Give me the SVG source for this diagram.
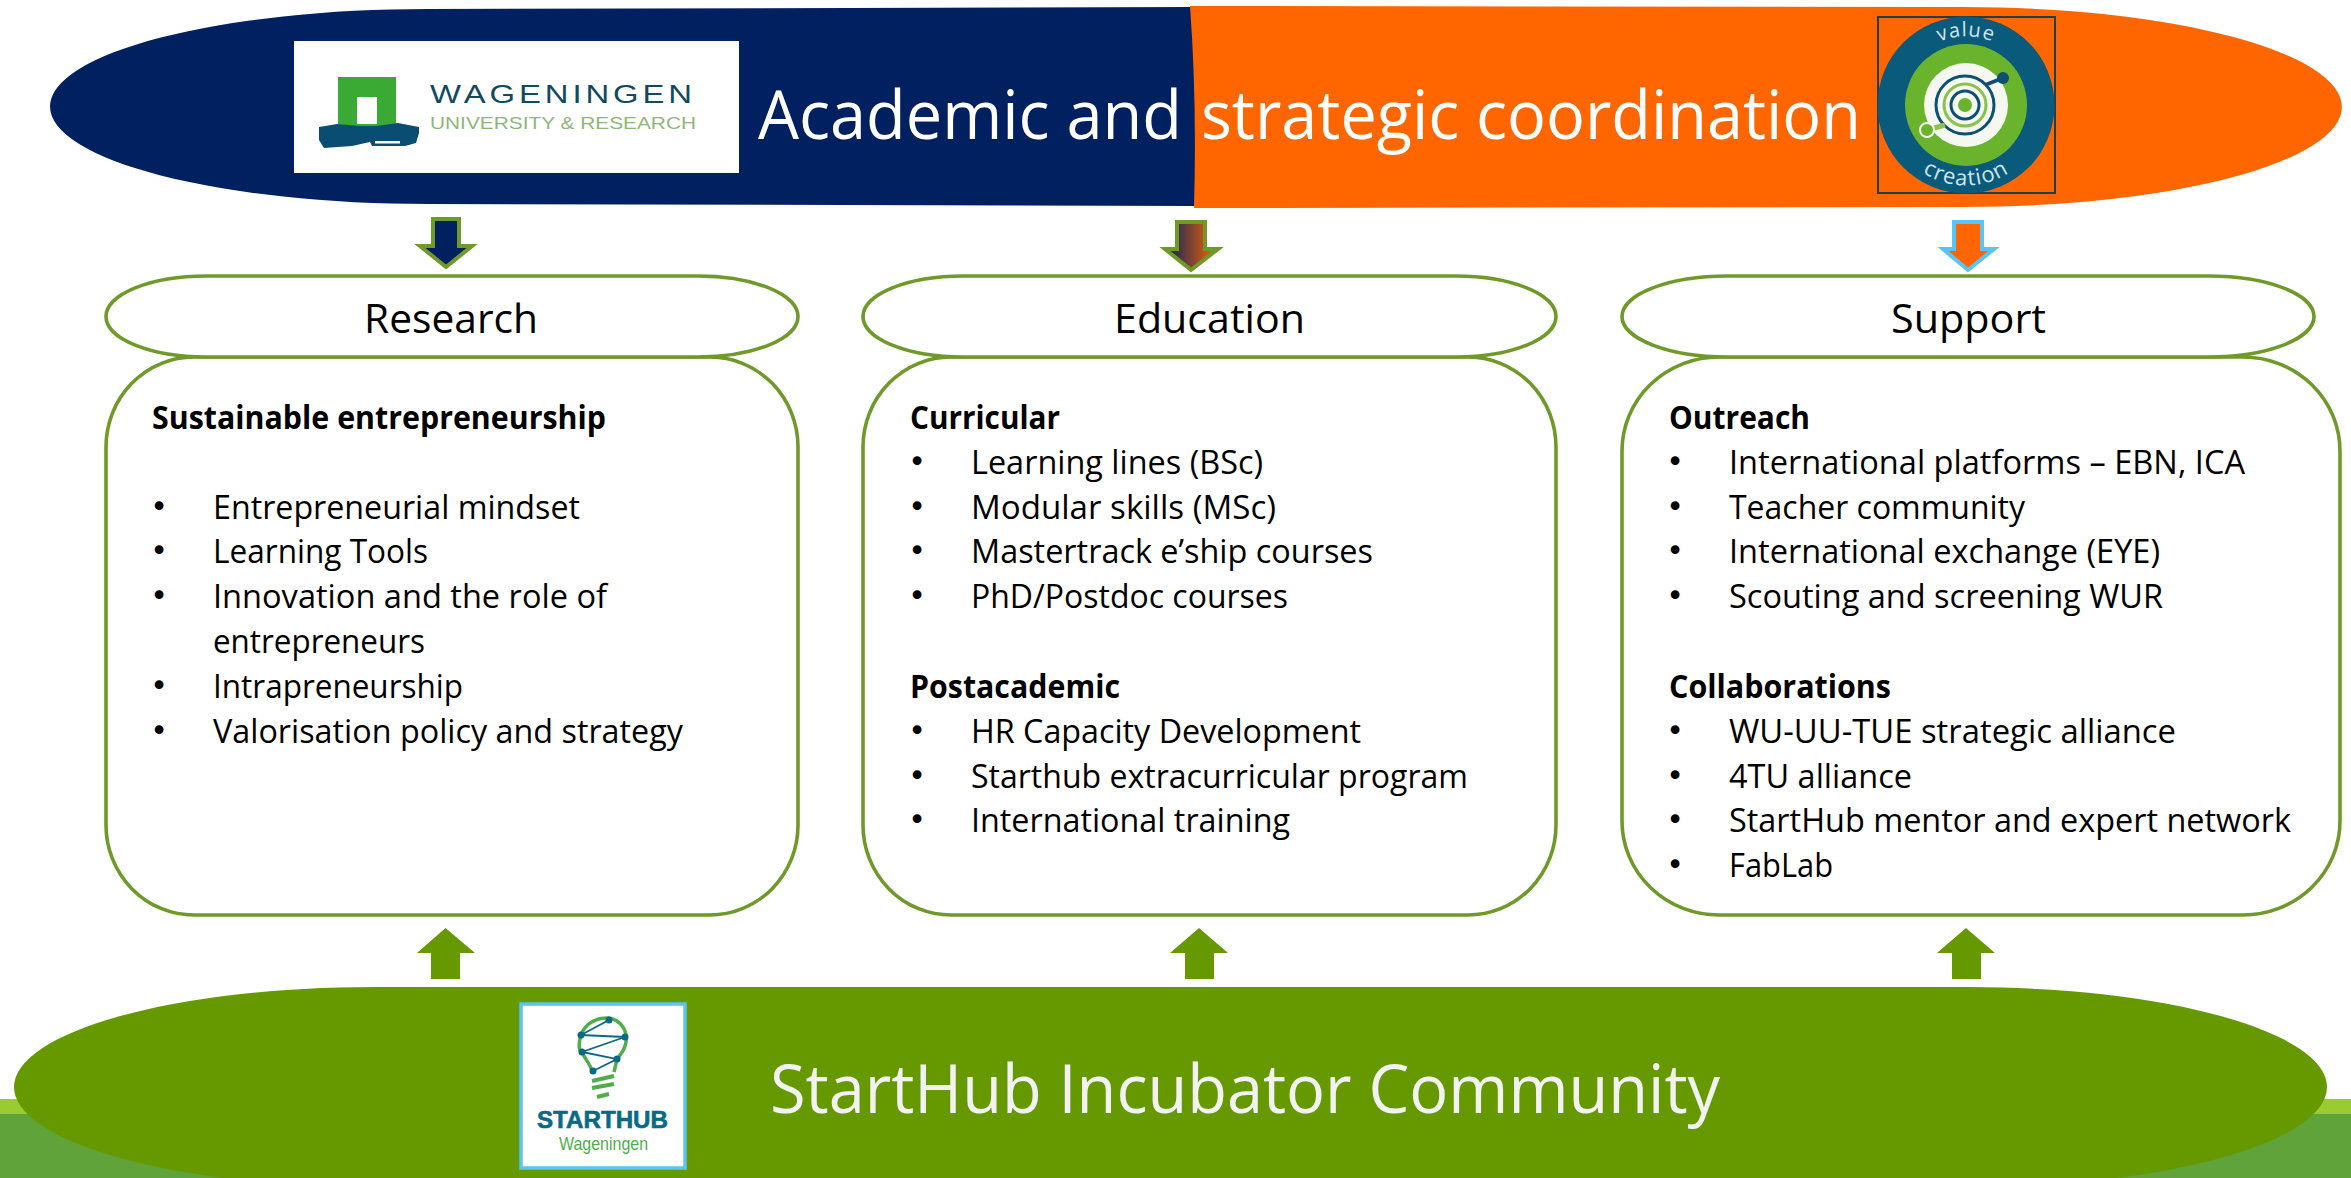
<svg xmlns="http://www.w3.org/2000/svg" width="2351" height="1178" viewBox="0 0 2351 1178">
<style>
text{font-family:"Open Sans","Noto Sans","Liberation Sans",sans-serif}
.box{fill:#fff;stroke:#6f9a2a;stroke-width:3.6}
.hd{font-size:41px;fill:#000}
.b{font-size:32px;fill:#000}
.bb{font-size:32px;fill:#000;font-weight:700}
.k{font-family:"DejaVu Sans",sans-serif;font-size:30px;fill:#000;text-anchor:middle}
.big{font-size:68px;fill:#fff}
.up{fill:#669900}
.dn{stroke:#6f9a2a;stroke-width:4}
.logo{font-family:"Liberation Sans",sans-serif}
</style>
<defs>
<linearGradient id="g" x1="0" y1="0" x2="1" y2="0"><stop offset="0" stop-color="#002060"/><stop offset="1" stop-color="#ff6600"/></linearGradient>
<path id="arcV" d="M1910 65A69 69 0 0 1 2022 65"/>
<path id="arcC" d="M1904 156A80 80 0 0 0 2028 156"/>
</defs>
<rect x="0" y="1099" width="2351" height="79" fill="#99cc33"/>
<rect x="0" y="1114" width="2351" height="64" fill="#5fa33a"/>
<g id="top-left">
<path d="M428 9L1197 7V206L428 204A378 97.500 0 0 1 428 9Z" fill="#002060"/>
<rect x="294" y="41" width="445" height="132" fill="#fff"/>
<rect x="338" y="77" width="58" height="51" fill="#3aaa35"/>
<rect x="357" y="97" width="20" height="27" fill="#fff"/>
<path d="M319 127L337 124L360 126H376L398 123L419 127V133L416 143L405 146H372L370 142L352 146L324 148L319 140Z" fill="#0a4d73"/>
<rect x="375" y="141" width="25" height="2.500" fill="#fff"/>
<text class="logo" x="430" y="103" font-size="25" letter-spacing="3" fill="#114a60" textLength="266" lengthAdjust="spacingAndGlyphs">WAGENINGEN</text>
<text class="logo" x="430" y="129" font-size="17" fill="#8db87a" textLength="266" lengthAdjust="spacingAndGlyphs">UNIVERSITY &amp; RESEARCH</text>
<text class="big" x="758" y="139" textLength="424" lengthAdjust="spacingAndGlyphs">Academic and</text>
</g>
<g id="top-right">
<path d="M1190 6L1962 7A380 100 0 0 1 1962 207L1194 208Q1197 100 1190 6Z" fill="#ff6600"/>
<text class="big" x="1201" y="139" textLength="660" lengthAdjust="spacingAndGlyphs">strategic coordination</text>
<rect x="1878" y="17" width="177" height="176" fill="none" stroke="#1f3f50" stroke-width="2"/>
<circle cx="1966" cy="105" r="88.500" fill="#0a5a7c"/>
<circle cx="1966" cy="105" r="61" fill="#6ab42d"/>
<circle cx="1966" cy="105" r="42" fill="#f4f8f0"/>
<circle cx="1965" cy="105" r="29" fill="none" stroke="#0f4f73" stroke-width="3"/>
<circle cx="1965" cy="105" r="21" fill="none" stroke="#8cc14d" stroke-width="3"/>
<circle cx="1965" cy="105" r="14" fill="none" stroke="#0f4f73" stroke-width="3"/>
<circle cx="1965" cy="105" r="7" fill="#6ab42d"/>
<path d="M1985 85L2003 78" stroke="#0f4f73" stroke-width="4"/><circle cx="2003" cy="78" r="6" fill="#0f4f73"/>
<path d="M1945 125L1927 130" stroke="#8cc14d" stroke-width="5"/><circle cx="1927" cy="130" r="7" fill="#6ab42d" stroke="#f4f8f0" stroke-width="2"/>
<text font-size="20" fill="#cfe6ee" text-anchor="middle" letter-spacing="1"><textPath href="#arcV" startOffset="50%">value</textPath></text>
<text font-size="22" fill="#cfe6ee" text-anchor="middle" letter-spacing="1"><textPath href="#arcC" startOffset="50%">creation</textPath></text>
</g>
<g id="research">
<rect class="box" x="106" y="357" width="692" height="558" rx="88" ry="90"/>
<rect class="box" x="106" y="276" width="692" height="81" rx="100" ry="40.500"/>
<text class="hd" x="364" y="333" textLength="174" lengthAdjust="spacingAndGlyphs">Research</text>
<text class="bb" x="152" y="429" textLength="454" lengthAdjust="spacingAndGlyphs">Sustainable entrepreneurship</text>
<text class="k" x="159" y="517">•</text><text class="b" x="213" y="519" textLength="367" lengthAdjust="spacingAndGlyphs">Entrepreneurial mindset</text>
<text class="k" x="159" y="561">•</text><text class="b" x="213" y="563" textLength="215" lengthAdjust="spacingAndGlyphs">Learning Tools</text>
<text class="k" x="159" y="606">•</text><text class="b" x="213" y="608" textLength="394" lengthAdjust="spacingAndGlyphs">Innovation and the role of</text>
<text class="b" x="213" y="653" textLength="212" lengthAdjust="spacingAndGlyphs">entrepreneurs</text>
<text class="k" x="159" y="696">•</text><text class="b" x="213" y="698" textLength="250" lengthAdjust="spacingAndGlyphs">Intrapreneurship</text>
<text class="k" x="159" y="741">•</text><text class="b" x="213" y="743" textLength="470" lengthAdjust="spacingAndGlyphs">Valorisation policy and strategy</text>
</g>
<g id="education">
<rect class="box" x="863" y="357" width="693" height="558" rx="88" ry="90"/>
<rect class="box" x="863" y="276" width="693" height="81" rx="100" ry="40.500"/>
<text class="hd" x="1114" y="333" textLength="191" lengthAdjust="spacingAndGlyphs">Education</text>
<text class="bb" x="910" y="429" textLength="150" lengthAdjust="spacingAndGlyphs">Curricular</text>
<text class="k" x="917" y="472">•</text><text class="b" x="971" y="474" textLength="292" lengthAdjust="spacingAndGlyphs">Learning lines (BSc)</text>
<text class="k" x="917" y="517">•</text><text class="b" x="971" y="519" textLength="305" lengthAdjust="spacingAndGlyphs">Modular skills (MSc)</text>
<text class="k" x="917" y="561">•</text><text class="b" x="971" y="563" textLength="402" lengthAdjust="spacingAndGlyphs">Mastertrack e’ship courses</text>
<text class="k" x="917" y="606">•</text><text class="b" x="971" y="608" textLength="317" lengthAdjust="spacingAndGlyphs">PhD/Postdoc courses</text>
<text class="bb" x="910" y="698" textLength="210" lengthAdjust="spacingAndGlyphs">Postacademic</text>
<text class="k" x="917" y="741">•</text><text class="b" x="971" y="743" textLength="390" lengthAdjust="spacingAndGlyphs">HR Capacity Development</text>
<text class="k" x="917" y="786">•</text><text class="b" x="971" y="788" textLength="497" lengthAdjust="spacingAndGlyphs">Starthub extracurricular program</text>
<text class="k" x="917" y="830">•</text><text class="b" x="971" y="832" textLength="319" lengthAdjust="spacingAndGlyphs">International training</text>
</g>
<g id="support">
<rect class="box" x="1622" y="357" width="718" height="558" rx="97" ry="94"/>
<rect class="box" x="1622" y="276" width="692" height="81" rx="105" ry="40.500"/>
<text class="hd" x="1891" y="333" textLength="155" lengthAdjust="spacingAndGlyphs">Support</text>
<text class="bb" x="1669" y="429" textLength="141" lengthAdjust="spacingAndGlyphs">Outreach</text>
<text class="k" x="1675" y="472">•</text><text class="b" x="1729" y="474" textLength="516" lengthAdjust="spacingAndGlyphs">International platforms – EBN, ICA</text>
<text class="k" x="1675" y="517">•</text><text class="b" x="1729" y="519" textLength="296" lengthAdjust="spacingAndGlyphs">Teacher community</text>
<text class="k" x="1675" y="561">•</text><text class="b" x="1729" y="563" textLength="431" lengthAdjust="spacingAndGlyphs">International exchange (EYE)</text>
<text class="k" x="1675" y="606">•</text><text class="b" x="1729" y="608" textLength="434" lengthAdjust="spacingAndGlyphs">Scouting and screening WUR</text>
<text class="bb" x="1669" y="698" textLength="222" lengthAdjust="spacingAndGlyphs">Collaborations</text>
<text class="k" x="1675" y="741">•</text><text class="b" x="1729" y="743" textLength="447" lengthAdjust="spacingAndGlyphs">WU-UU-TUE strategic alliance</text>
<text class="k" x="1675" y="786">•</text><text class="b" x="1729" y="788" textLength="183" lengthAdjust="spacingAndGlyphs">4TU alliance</text>
<text class="k" x="1675" y="830">•</text><text class="b" x="1729" y="832" textLength="562" lengthAdjust="spacingAndGlyphs">StartHub mentor and expert network</text>
<text class="k" x="1675" y="875">•</text><text class="b" x="1729" y="877" textLength="104" lengthAdjust="spacingAndGlyphs">FabLab</text>
</g>
<g id="bottom">
<rect x="14" y="987" width="2313" height="200" rx="360" ry="100" fill="#669900"/>
<rect x="521" y="1004" width="164" height="164" fill="#fff" stroke="#5bc4f5" stroke-width="3.500"/>
<path d="M581 1035C585 1024 596 1017 609 1018C620 1020 628 1030 626 1042C625 1050 621 1054 617 1059L614 1072M581 1035C578 1044 579 1052 582 1052C584 1058 590 1063 592 1071" fill="none" stroke="#4fae4a" stroke-width="3.500"/>
<path d="M581 1035L609 1020M581 1035L625 1037L582 1052L617 1059L593 1071" fill="none" stroke="#0a6a85" stroke-width="1.800"/>
<g fill="#0a6a85"><circle cx="581" cy="1035" r="3.500"/><circle cx="609" cy="1020" r="3.500"/><circle cx="625" cy="1037" r="3.500"/><circle cx="582" cy="1052" r="3.500"/><circle cx="617" cy="1059" r="3.500"/><circle cx="593" cy="1071" r="3.500"/></g>
<path d="M592 1081L614 1076M592 1088L614 1084M597 1097L609 1094" stroke="#4fae4a" stroke-width="4"/>
<text class="logo" x="537" y="1128" font-size="23" font-weight="700" fill="#0a6a85" stroke="#0a6a85" stroke-width=".6" textLength="131" lengthAdjust="spacingAndGlyphs">STARTHUB</text>
<text class="logo" x="559" y="1150" font-size="19" fill="#4fae4a" textLength="89" lengthAdjust="spacingAndGlyphs">Wageningen</text>
<text class="big" x="770" y="1113" style="fill:#f2f2f2" textLength="950" lengthAdjust="spacingAndGlyphs">StartHub Incubator Community</text>
</g>
<g id="connectors">
<path class="dn" fill="#002060" d="M433 219H459V246H472L446 267L420 246H433Z"/>
<path class="dn" fill="url(#g)" d="M1177 222H1205V249H1218L1191 270L1165 249H1177Z"/>
<path d="M1954 222H1982V249H1994L1968 270L1943 249H1954Z" fill="#ff6600" stroke="#5bc4f5" stroke-width="4"/>
<path class="up" d="M445.500 928L475 953H460V979H431V953H417Z"/>
<path class="up" d="M1199 928L1228 953H1214V979H1185V953H1170Z"/>
<path class="up" d="M1966 928L1995 953H1981V979H1952V953H1937Z"/>
</g>
</svg>
